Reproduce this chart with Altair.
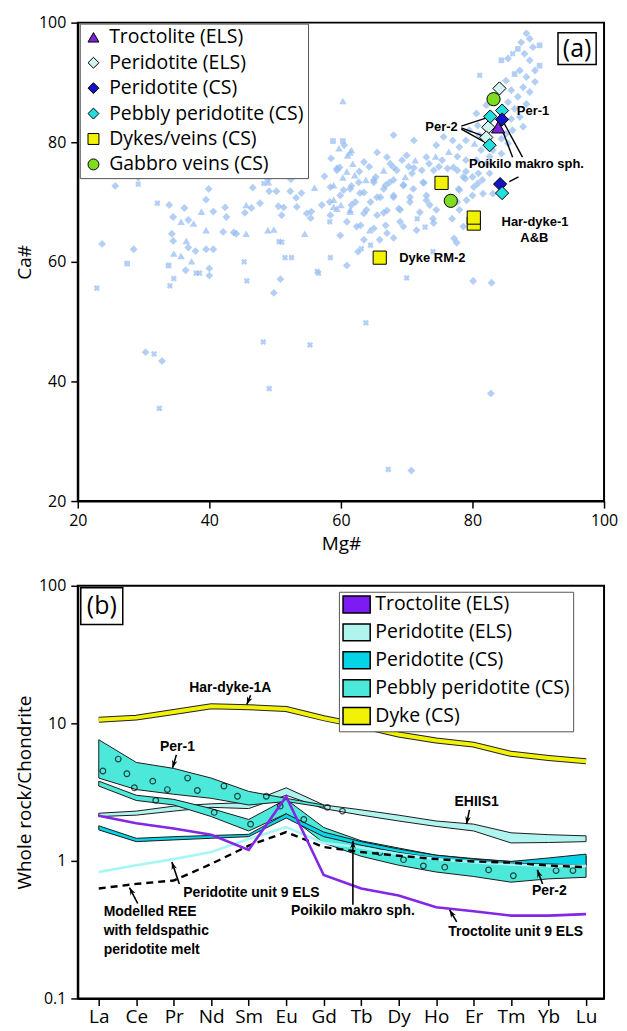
import math
import altair as alt
import pandas as pd

FONT = "Open Sans"
BOLD = "Liberation Sans"

# ===================== Panel (a): Mg# vs Ca# =====================
MG_TICKS = [20, 40, 60, 80, 100]
CA_TICKS = [20, 40, 60, 80, 100]

# background compilation (light-blue cloud); kind: d=diamond t=triangle s=square x=cross
BG_MG = [
    22.9, 27.5, 30.3, 31.6, 32.8, 32.4, 34.0, 34.6, 33.8, 36.4,
    38.0, 38.5, 40.0, 40.0, 45.7, 45.3, 48.2, 49.1, 49.8, 50.8,
    55.3, 56.6, 60.9, 63.8, 67.2, 70.7, 70.0, 80.1, 82.9, 82.8,
    25.7, 29.2, 29.2, 36.1, 23.7, 28.5, 32.1, 33.9, 34.5, 36.2,
    35.7, 36.8, 37.6, 38.8, 39.5, 39.9, 40.6, 42.4, 42.6, 39.5,
    34.3, 34.5, 34.6, 35.7, 36.5, 36.8, 37.9, 37.3, 39.5, 40.6,
    42.1, 44.1, 45.6, 45.6, 45.4, 46.4, 46.6, 47.7, 48.9, 49.1,
    48.9, 49.8, 50.2, 50.5, 51.3, 51.0, 51.0, 52.4, 52.3, 53.2,
    54.0, 54.5, 55.5, 56.0, 57.1, 58.4, 58.9, 60.0, 51.5, 52.5,
    58.4, 58.8, 60.3, 61.6, 59.8, 60.3, 61.6, 57.5, 61.6, 53.3,
    54.8, 55.4, 48.3, 49.0, 43.7, 50.6, 56.4,
    88.2, 88.7, 87.4, 86.9, 86.1, 87.9, 89.2, 90.2, 84.4, 85.4,
    88.7, 90.2, 89.5, 87.2, 86.4, 88.2, 85.1, 89.5, 87.7, 85.9,
    88.7, 86.9, 85.4, 88.2, 86.4, 82.1, 80.6, 85.9, 87.2, 87.7,
    86.1, 85.1, 80.8, 79.5, 81.0, 84.4, 85.4, 79.0, 80.3, 81.3,
    83.1, 84.4, 78.0, 77.0, 76.4, 77.7, 79.0, 80.6, 82.1, 75.4,
    74.4, 73.4, 74.9, 76.2, 77.7, 79.0, 80.0, 81.5, 72.3, 71.3,
    70.3, 69.3, 70.8, 69.8, 68.5, 67.5, 66.5, 68.0, 66.8, 65.3,
    64.3, 63.8, 62.8, 61.8, 61.0, 60.5, 60.3, 59.7, 58.5, 59.4,
    60.9, 62.7, 65.0, 66.5, 63.5, 61.4, 58.9, 59.9, 62.2, 64.5,
    66.0, 68.0, 69.5, 71.0, 72.5, 73.0, 70.5, 68.8, 67.0, 65.5,
    63.5, 61.4, 59.4, 58.3, 63.0, 65.0, 66.8, 69.0, 71.6, 72.8,
    74.0, 73.5, 77.9, 78.9, 77.7, 80.0, 76.9, 77.2, 74.0, 62.6,
    63.1, 64.5, 59.9, 60.9, 58.3, 82.6, 83.1, 81.6, 80.8, 82.6,
    81.1,
    68.0, 61.4, 75.6, 74.5, 71.1, 70.0, 73.0, 67.0, 65.5, 63.5,
    68.0, 71.1, 74.1, 77.1, 78.6, 59.4, 62.1, 65.0, 67.4, 69.5,
    72.6, 70.5, 73.0, 68.0, 65.5, 62.9, 60.4, 58.4, 58.9, 61.4,
    63.9, 66.5, 69.0, 72.0, 74.5, 78.0, 79.1, 78.0, 62.4, 64.4,
    67.0, 69.5, 71.5, 74.1, 78.6, 63.5, 65.9, 68.0, 77.6, 80.2,
    80.9,
]
BG_CA = [
    55.6, 59.7, 44.9, 44.6, 43.4, 35.5, 56.0, 57.2, 59.4, 58.6,
    58.1, 58.1, 58.9, 57.7, 56.8, 60.0, 46.6, 38.8, 54.8, 57.1,
    46.1, 58.1, 59.4, 49.8, 25.3, 25.1, 57.3, 56.8, 56.5, 38.0,
    72.7, 74.1, 73.0, 74.8, 63.0, 62.1, 69.8, 69.5, 67.5, 69.0,
    66.7, 67.0, 66.4, 68.4, 70.4, 72.2, 68.4, 69.1, 67.5, 65.3,
    64.7, 63.5, 61.4, 61.0, 63.5, 62.4, 61.8, 60.1, 62.1, 62.1,
    65.0, 64.7, 64.7, 69.5, 68.2, 69.0, 72.4, 69.8, 73.8, 71.8,
    65.3, 65.4, 71.8, 69.3, 69.1, 67.8, 63.3, 73.8, 71.8, 70.7,
    71.5, 64.7, 68.4, 72.4, 69.5, 67.8, 70.4, 69.5, 60.7, 60.7,
    60.7, 80.2, 80.2, 78.7, 75.8, 74.1, 72.7, 74.3, 69.5, 69.2,
    68.1, 67.3, 73.1, 73.3, 64.9, 63.4, 58.4,
    98.2, 97.3, 96.7, 95.6, 94.8, 94.8, 95.9, 96.2, 93.7, 94.0,
    93.7, 92.8, 92.0, 92.0, 91.4, 90.9, 90.3, 90.1, 89.2, 88.7,
    88.4, 87.6, 86.7, 86.4, 85.6, 86.2, 84.8, 83.9, 84.2, 82.6,
    82.0, 81.4, 82.8, 82.0, 81.2, 80.6, 79.8, 80.3, 79.8, 78.7,
    78.7, 78.1, 79.2, 80.3, 78.4, 77.6, 77.0, 77.0, 76.4, 77.0,
    77.6, 76.4, 75.9, 75.6, 75.3, 75.1, 74.2, 73.7, 75.3, 77.0,
    75.9, 77.0, 74.8, 74.2, 75.3, 76.4, 75.3, 73.7, 72.8, 74.2,
    75.9, 73.7, 75.1, 76.4, 77.8, 79.5, 86.9, 79.0, 77.3, 75.6,
    75.1, 73.3, 73.3, 72.2, 71.6, 72.2, 72.8, 71.1, 70.0, 70.0,
    70.8, 71.1, 72.8, 72.2, 73.3, 71.1, 70.0, 68.9, 68.6, 67.8,
    68.1, 68.4, 68.9, 70.0, 66.1, 65.6, 66.1, 66.7, 67.2, 65.8,
    67.2, 69.5, 72.2, 73.9, 70.0, 71.1, 67.2, 63.9, 61.7, 61.7,
    62.2, 62.8, 64.4, 66.7, 66.7, 74.8, 71.4, 71.4, 73.1, 77.6,
    91.2,
    81.2, 78.3, 80.9, 79.5, 80.3, 77.8, 77.5, 77.5, 78.3, 76.7,
    75.8, 75.7, 75.3, 75.8, 74.2, 75.3, 74.5, 73.7, 73.3, 72.8,
    73.2, 70.8, 70.3, 70.8, 70.8, 71.5, 72.0, 72.5, 69.2, 68.7,
    68.7, 68.2, 68.7, 68.3, 68.7, 72.0, 70.3, 68.7, 65.9, 65.3,
    64.8, 65.9, 65.3, 66.5, 65.9, 63.7, 63.7, 64.0, 63.2, 72.5,
    74.8,
]
BG_KIND = list(
    "xsdxdxxxsd" "xxddxxxxdd" "xxdxxdxddd"
    "ddxdd" "dxddd" "tdttd" "ddddt" "ddttt" "ddtdd" "ddttd" "ddddd"
    "ttddd" "dxddd" "dtdtd" "dttxx" "xsstd" "tdddd" "ddxtd" "xx"
    "dddsx" "ddssd" "dsdds" "ddddd" "ddddd" "ddddd" "ddddd" "dddtd"
    "ddddt" "ddddd" "tdddd" "ddddt" "dddtd" "dtddd" "dtdtt" "dttdd"
    "tdddd" "dtddd" "ddddd" "ddddd" "dttdd" "dddxx" "ddddd" "dddxd"
    "xxddx" "ddddd" "x"
    "dtdddddddd" "ddddddtddd" "ddddddddtt" "dddddddddt" "dddddddddd" "d"
)

# highlighted samples
HL_GROUP = (["Peridotite (ELS)"] * 3 + ["Pebbly peridotite (CS)"] * 3 + ["Troctolite (ELS)"]
            + ["Peridotite (CS)"] * 2 + ["Pebbly peridotite (CS)"] + ["Dykes/veins (CS)"] * 4
            + ["Gabbro veins (CS)"] * 2)
HL_MG = [84.1, 82.4, 82.1, 84.5, 82.7, 82.6, 83.9, 84.5, 84.2, 84.5, 75.3, 80.2, 80.2, 65.9, 83.2, 76.7]
HL_CA = [89.0, 82.5, 80.8, 85.3, 84.3, 79.5, 82.5, 83.8, 73.0, 71.5, 73.2, 66.4, 67.4, 60.7, 87.2, 70.2]

GROUPS_A = ["Troctolite (ELS)", "Peridotite (ELS)", "Peridotite (CS)",
            "Pebbly peridotite (CS)", "Dykes/veins (CS)", "Gabbro veins (CS)"]
SHAPES_A = ["triangle-up", "diamond", "diamond", "diamond", "square", "circle"]
FILLS_A = ["#7b22d8", "#d4f4f1", "#1414c6", "#22dede", "#f2f205", "#7fdc20"]

# leader lines
LEAD_MG1 = [78.3, 78.3, 78.3, 84.5, 84.2, 85.6]
LEAD_CA1 = [82.7, 82.4, 82.2, 83.8, 83.0, 73.4]
LEAD_MG2 = [82.5, 82.0, 82.4, 87.6, 86.1, 87.0]
LEAD_CA2 = [84.2, 80.9, 79.7, 77.5, 77.5, 74.2]

# annotation labels (centres)
LAB_A_TEXT = ["Per-1", "Per-2", "Poikilo makro sph.", "Har-dyke-1", "A&B", "Dyke RM-2"]
LAB_A_MG = [89.2, 75.3, 88.2, 89.5, 89.4, 73.9]
LAB_A_CA = [85.3, 82.5, 76.3, 66.7, 64.0, 60.7]

PANEL_A_BOX = [93.0, 98.8, 93.0, 98.3]   # mg1, mg2, ca1, ca2
PANEL_A_LAB = [95.9, 95.6]

BG_COLOR = "#96bdf0"

# ===================== Panel (b): REE pattern =====================
ELEMENTS = ["La", "Ce", "Pr", "Nd", "Sm", "Eu", "Gd", "Tb", "Dy", "Ho", "Er", "Tm", "Yb", "Lu"]
Y_TICKS_B = [0.1, 1, 10, 100]

DYKE = [10.6, 11.0, 12.1, 13.3, 13.1, 12.7, 10.9, 9.6, 8.3, 7.5, 7.0, 6.0, 5.6, 5.3]
TROCT = [2.13, 1.88, 1.72, 1.55, 1.2, 2.94, 0.79, 0.63, 0.56, 0.46, 0.43, 0.40, 0.40, 0.41]
PERID_ELS_LINE = [0.83, 0.93, 1.03, 1.16, 1.44, 1.76, 1.35, 1.25, 1.12, 1.03, 0.98, 0.94, 0.92, 0.92]
MODEL = [0.63, 0.68, 0.72, 0.95, 1.29, 1.62, 1.26, 1.16, 1.09, 1.03, 0.99, 0.97, 0.925, 0.90]

ELS_BAND_HI = [2.22, 2.3, 2.5, 2.6, 2.65, 3.4, 2.55, 2.35, 2.15, 1.95, 1.85, 1.6, 1.55, 1.52]
ELS_BAND_LO = [2.1, 2.15, 2.3, 2.45, 2.4, 3.0, 2.4, 2.15, 1.95, 1.78, 1.65, 1.35, 1.36, 1.38]
PEB_UP_HI = [7.6, 5.2, 4.7, 4.0, 3.2, 2.85, 2.55]
PEB_UP_LO = [4.0, 3.3, 3.05, 2.85, 2.55, 2.7, 2.45]
PEB_LOW_HI = [3.8, 3.0, 2.8, 2.4, 2.0, 2.8, 1.75, 1.4, 1.24, 1.1, 1.04, 0.99, 1.02, 1.08]
PEB_LOW_LO = [3.5, 2.75, 2.55, 2.1, 1.65, 2.2, 1.35, 1.08, 0.93, 0.83, 0.77, 0.70, 0.74, 0.76]
CS_BAND_HI = [1.8, 1.46, 1.5, 1.53, 1.56, 2.2, 1.62, 1.38, 1.22, 1.1, 1.03, 0.99, 1.05, 1.12]
CS_BAND_LO = [1.68, 1.38, 1.42, 1.46, 1.5, 2.05, 1.5, 1.3, 1.15, 1.05, 0.99, 0.96, 0.95, 0.93]

PEBBLE_I = [0.11, 0.52, 0.75, 0.95, 1.44, 1.83, 2.37, 2.63, 3.34, 3.70, 4.47,
            1.52, 3.08, 4.05, 4.84, 5.47, 6.1, 6.5,
            7.5, 8.13, 8.66, 9.23, 10.4, 11.06, 12.2, 12.65]
PEBBLE_V = [4.5, 5.5, 4.3, 3.4, 3.8, 3.3, 4.0, 3.25, 3.5, 2.95, 2.95,
            2.75, 2.25, 1.85, 2.5, 2.0, 2.45, 2.3,
            1.15, 1.02, 0.92, 0.90, 0.86, 0.78, 0.85, 0.85]

CATS_B = ["Troctolite (ELS)", "Peridotite (ELS)", "Peridotite (CS)", "Pebbly peridotite (CS)", "Dyke (CS)"]
FILLS_B = ["#7c1cf2", "#aff4ef", "#05d3e6", "#4ce8da", "#f2f205"]

ARROW_TAIL_I = [4.05, 2.07, 9.89, 11.84, 2.15, 1.04, 6.78, 9.55]
ARROW_TAIL_V = [16.0, 5.9, 2.35, 0.68, 0.68, 0.49, 0.48, 0.36]
ARROW_HEAD_I = [3.95, 1.97, 9.81, 11.70, 1.95, 0.82, 6.78, 9.36]
ARROW_HEAD_V = [13.7, 4.75, 1.85, 0.86, 0.98, 0.64, 1.40, 0.44]

LAB_B_TEXT = ["Har-dyke-1A", "Per-1", "EHIIS1", "Per-2", "Peridotite unit 9 ELS",
              "Poikilo makro sph.", "Troctolite unit 9 ELS"]
LAB_B_I = [3.51, 2.1, 10.08, 12.02, 4.07, 6.78, 11.12]
LAB_B_V = [18.2, 6.7, 2.68, 0.60, 0.58, 0.43, 0.306]
MODEL_TEXT = ["Modelled REE", "with feldspathic", "peridotite melt"]
MODEL_TEXT_I = [0.13, 0.13, 0.13]
MODEL_TEXT_V = [0.427, 0.311, 0.226]

PANEL_B_BOX = [-0.48, 0.64, 52.2, 96.8]
PANEL_B_LAB = [0.08, 71.6]

# ===================== build panel (a) =====================
W_A, H_A = 528, 480
W_B, H_B = 528, 414
XB_DOM = [-0.56, 13.48]

SX_A = alt.Scale(domain=[20, 100], nice=False, zero=False)
SY_A = alt.Scale(domain=[20, 100], nice=False, zero=False)
AX_XA = alt.Axis(title="Mg#", values=MG_TICKS, titlePadding=6, labelFlush=False)
AX_YA = alt.Axis(title="Ca#", values=CA_TICKS, titlePadding=4)


def xa(field="mg"):
    return alt.X(f"{field}:Q", scale=SX_A, axis=AX_XA)


def ya(field="ca"):
    return alt.Y(f"{field}:Q", scale=SY_A, axis=AX_YA)


n_bg = min(len(BG_MG), len(BG_CA), len(BG_KIND))
bg = pd.DataFrame({"mg": BG_MG[:n_bg], "ca": BG_CA[:n_bg], "kind": BG_KIND[:n_bg]})
BG_STYLE = {"d": ("diamond", 62, 0), "t": ("triangle-up", 58, 0),
            "s": ("square", 32, 0), "x": ("cross", 40, 45)}
layers_a = []
for code, (shp, sz, ang) in BG_STYLE.items():
    layers_a.append(
        alt.Chart(bg).transform_filter(alt.datum.kind == code)
        .mark_point(shape=shp, size=sz, filled=True, color=BG_COLOR, opacity=0.72, angle=ang)
        .encode(x=xa(), y=ya())
    )

lead = pd.DataFrame({"mg": LEAD_MG1, "ca": LEAD_CA1, "mg2": LEAD_MG2, "ca2": LEAD_CA2})
layers_a.append(
    alt.Chart(lead).mark_rule(color="black", strokeWidth=1.4)
    .encode(x=xa(), y=ya(), x2="mg2:Q", y2="ca2:Q")
)

LEG_A = alt.Legend(title=None, orient="none", legendX=2, legendY=1,
                   labelFont=FONT, labelFontSize=19.5, labelColor="black", labelOffset=6,
                   labelLimit=400, symbolSize=120, symbolStrokeWidth=1,
                   strokeColor="#555", fillColor="white", padding=4, rowPadding=4.5)
hl = pd.DataFrame({"mg": HL_MG, "ca": HL_CA, "group": HL_GROUP})
layers_a.append(
    alt.Chart(hl).mark_point(filled=True, stroke="black", strokeWidth=1, size=175, opacity=1)
    .encode(
        x=xa(), y=ya(),
        shape=alt.Shape("group:N", scale=alt.Scale(domain=GROUPS_A, range=SHAPES_A), legend=LEG_A),
        fill=alt.Fill("group:N", scale=alt.Scale(domain=GROUPS_A, range=FILLS_A), legend=LEG_A),
    )
)

lab_a = pd.DataFrame({"mg": LAB_A_MG, "ca": LAB_A_CA, "t": LAB_A_TEXT})
layers_a.append(
    alt.Chart(lab_a).mark_text(font=BOLD, fontWeight="bold", fontSize=13, color="black",
                               align="center", baseline="middle")
    .encode(x=xa(), y=ya(), text="t:N")
)

box_a = pd.DataFrame({"mg": [PANEL_A_BOX[0]], "mg2": [PANEL_A_BOX[1]],
                      "ca": [PANEL_A_BOX[2]], "ca2": [PANEL_A_BOX[3]]})
layers_a.append(
    alt.Chart(box_a).mark_rect(fill="white", stroke="black", strokeWidth=1.5)
    .encode(x=xa(), x2="mg2:Q", y=ya(), y2="ca2:Q")
)
layers_a.append(
    alt.Chart(pd.DataFrame({"mg": [PANEL_A_LAB[0]], "ca": [PANEL_A_LAB[1]], "t": ["(a)"]}))
    .mark_text(font=FONT, fontSize=25, color="black", align="center", baseline="middle")
    .encode(x=xa(), y=ya(), text="t:N")
)

top = alt.layer(*layers_a).properties(width=W_A, height=H_A)

# ===================== build panel (b) =====================
SX_B = alt.Scale(domain=XB_DOM, nice=False, zero=False)
SY_B = alt.Scale(type="log", domain=[0.1, 100], nice=False)
LABEL_EXPR = "[" + ",".join(f"'{e}'" for e in ELEMENTS) + "][datum.value]"
AX_XB = alt.Axis(title=None, values=list(range(len(ELEMENTS))), labelExpr=LABEL_EXPR,
                 labelFontSize=19, labelPadding=2, labelFlush=False)
AX_YB = alt.Axis(title="Whole rock/Chondrite", values=Y_TICKS_B, format="~g", titlePadding=4)


def xb(field="i"):
    return alt.X(f"{field}:Q", scale=SX_B, axis=AX_XB)


def yb(field="v"):
    return alt.Y(f"{field}:Q", scale=SY_B, axis=AX_YB)


LEG_B = alt.Legend(title=None, orient="none", legendX=262, legendY=6,
                   symbolType="M-1.6,-1H1.6V1H-1.6Z", symbolSize=290, symbolOffset=5,
                   symbolStrokeColor="black", symbolStrokeWidth=1.5,
                   labelFont=FONT, labelFontSize=19.5, labelColor="black", labelOffset=9,
                   labelLimit=400, strokeColor="#555", fillColor="white", padding=3, rowPadding=4)

bands = [
    ("ELS", "Peridotite (ELS)", ELS_BAND_HI, ELS_BAND_LO),
    ("PEB_UP", "Pebbly peridotite (CS)", PEB_UP_HI, PEB_UP_LO),
    ("PEB_LOW", "Pebbly peridotite (CS)", PEB_LOW_HI, PEB_LOW_LO),
    ("CS", "Peridotite (CS)", CS_BAND_HI, CS_BAND_LO),
]
layers_b = []
for name, cat, hi, lo in bands:
    d = pd.DataFrame({"i": list(range(len(hi))), "v": hi, "lo": lo, "cat": [cat] * len(hi)})
    layers_b.append(
        alt.Chart(d).mark_area(stroke="#1c1c1c", strokeWidth=1, opacity=1)
        .encode(x=xb(), y=yb(), y2="lo:Q",
                fill=alt.Fill("cat:N", scale=alt.Scale(domain=CATS_B, range=FILLS_B), legend=LEG_B))
    )

peb = pd.DataFrame({"i": PEBBLE_I, "v": PEBBLE_V})
layers_b.append(
    alt.Chart(peb).mark_point(shape="circle", filled=False, stroke="black", strokeWidth=1.2, size=32)
    .encode(x=xb(), y=yb())
)


def line_df(vals):
    return pd.DataFrame({"i": list(range(len(vals))), "v": vals})


layers_b.append(alt.Chart(line_df(PERID_ELS_LINE)).mark_line(color="#a6f6f8", strokeWidth=2.6)
                .encode(x=xb(), y=yb()))
layers_b.append(alt.Chart(line_df(MODEL)).mark_line(color="black", strokeWidth=2.4, strokeDash=[7, 5])
                .encode(x=xb(), y=yb()))
layers_b.append(alt.Chart(line_df(TROCT)).mark_line(color="#8326e6", strokeWidth=2.6)
                .encode(x=xb(), y=yb()))
layers_b.append(alt.Chart(line_df(DYKE)).mark_line(color="#222", strokeWidth=6)
                .encode(x=xb(), y=yb()))
layers_b.append(alt.Chart(line_df(DYKE)).mark_line(color="#f2f205", strokeWidth=4)
                .encode(x=xb(), y=yb()))


def _px(i):
    return (i - XB_DOM[0]) / (XB_DOM[1] - XB_DOM[0]) * W_B


def _py(v):
    return H_B * (1 - (math.log10(v) + 1) / 3)


ang = [math.degrees(math.atan2(_px(hi_) - _px(ti), -(_py(hv) - _py(tv)))) % 360
       for ti, tv, hi_, hv in zip(ARROW_TAIL_I, ARROW_TAIL_V, ARROW_HEAD_I, ARROW_HEAD_V)]
arr = pd.DataFrame({"i": ARROW_TAIL_I, "v": ARROW_TAIL_V, "i2": ARROW_HEAD_I, "v2": ARROW_HEAD_V})
layers_b.append(alt.Chart(arr).mark_rule(color="black", strokeWidth=1.6)
                .encode(x=xb(), y=yb(), x2="i2:Q", y2="v2:Q"))
heads = pd.DataFrame({"i": ARROW_HEAD_I, "v": ARROW_HEAD_V, "a": ang})
layers_b.append(
    alt.Chart(heads).mark_point(shape="M0,0L0.8,2.2L0,1.5L-0.8,2.2Z", filled=True, color="black",
                                size=50, opacity=1)
    .encode(x=xb(), y=yb(), angle=alt.Angle("a:Q", scale=None))
)

lab_b = pd.DataFrame({"i": LAB_B_I, "v": LAB_B_V, "t": LAB_B_TEXT})
layers_b.append(
    alt.Chart(lab_b).mark_text(font=BOLD, fontWeight="bold", fontSize=14, color="black",
                               align="center", baseline="middle")
    .encode(x=xb(), y=yb(), text="t:N")
)
mt = pd.DataFrame({"i": MODEL_TEXT_I, "v": MODEL_TEXT_V, "t": MODEL_TEXT})
layers_b.append(
    alt.Chart(mt).mark_text(font=BOLD, fontWeight="bold", fontSize=14, color="black",
                            align="left", baseline="middle")
    .encode(x=xb(), y=yb(), text="t:N")
)

box_b = pd.DataFrame({"i": [PANEL_B_BOX[0]], "i2": [PANEL_B_BOX[1]],
                      "v": [PANEL_B_BOX[2]], "v2": [PANEL_B_BOX[3]]})
layers_b.append(
    alt.Chart(box_b).mark_rect(fill="white", stroke="black", strokeWidth=1.5)
    .encode(x=xb(), x2="i2:Q", y=yb(), y2="v2:Q")
)
layers_b.append(
    alt.Chart(pd.DataFrame({"i": [PANEL_B_LAB[0]], "v": [PANEL_B_LAB[1]], "t": ["(b)"]}))
    .mark_text(font=FONT, fontSize=25, color="black", align="center", baseline="middle")
    .encode(x=xb(), y=yb(), text="t:N")
)

bottom = alt.layer(*layers_b).properties(width=W_B, height=H_B)

chart = (
    alt.vconcat(top, bottom, spacing=22)
    .resolve_scale(fill="independent", shape="independent")
    .resolve_legend(fill="independent", shape="independent")
    .properties(padding={"left": 6, "top": 4, "right": 0, "bottom": 0})
    .configure_view(stroke="black", strokeWidth=2)
    .configure_axis(
        grid=False, domainColor="black", domainWidth=2, tickColor="black", tickWidth=1.5,
        tickSize=7, labelPadding=5, labelFont=FONT, labelFontSize=16, labelColor="black",
        titleFont=FONT, titleFontSize=19, titleFontWeight="normal", titleColor="black",
    )
)

chart.save("out.html", embed_options={"renderer": "svg", "actions": False})
